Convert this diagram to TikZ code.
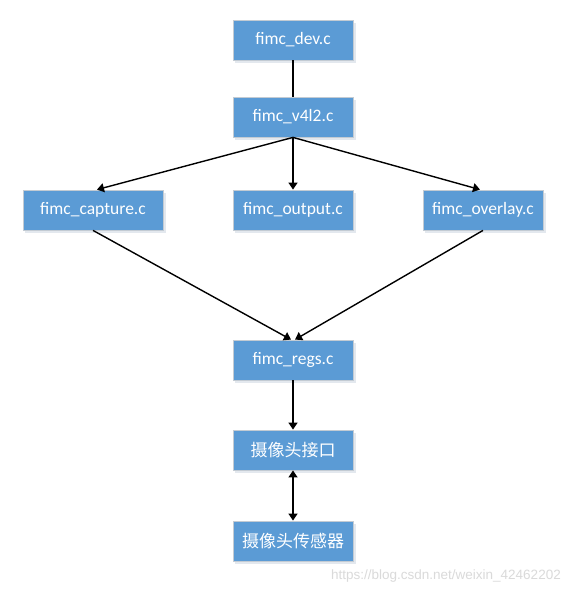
\documentclass[tikz,border=0pt]{standalone}
\usepackage{fontspec}
\setmainfont{Carlito}
\newfontfamily\cjk{Noto Sans CJK SC}
\newfontfamily\wmfont{Liberation Sans}
\usetikzlibrary{arrows.meta}
\definecolor{boxblue}{HTML}{5B9BD5}
\definecolor{boxedge}{HTML}{C3CBD3}
\definecolor{shadowc}{HTML}{E3E8EE}
\definecolor{wm}{HTML}{DADADA}
\tikzset{
  filebox/.style={draw=boxedge, line width=0.8pt, fill=boxblue, text=white,
    minimum width=120pt, minimum height=40pt, inner sep=0pt,
    font=\fontsize{17.5}{20}\selectfont},
  widebox/.style={filebox, minimum width=140pt},
  cnbox/.style={filebox, font=\cjk\fontsize{17}{20}\selectfont},
  link/.style={line width=1.4pt, black},
  arr/.style={link, -{Triangle[length=7pt,width=9pt]}},
  darr/.style={link, {Triangle[length=7pt,width=9pt]}-{Triangle[length=7pt,width=9pt]}},
  shade/.style={fill=shadowc, draw=none}
}
\begin{document}
\begin{tikzpicture}[x={(1pt,0)}, y={(0,-1pt)}]
\useasboundingbox (0,0) rectangle (573,595);
\fill[white] (0,0) rectangle (573,595);
% soft shadows
\foreach \cx/\cy/\w in {293/40/120, 293/117/120, 93/210/140, 293/210/120, 483/210/120, 293/360/120, 293/450/120, 293/541/120}{
  \fill[shadowc] (\cx-\w/2+2,\cy-20+3) rectangle (\cx+\w/2+3,\cy+20+3);
}
\node[filebox] (dev) at (293,40) {fimc\_dev.c};
\node[filebox] (v4l2) at (293,117) {fimc\_v4l2.c};
\node[widebox] (capture) at (93,210) {fimc\_capture.c};
\node[filebox] (output) at (293,210) {fimc\_output.c};
\node[filebox] (overlay) at (483,210) {fimc\_overlay.c};
\node[filebox] (regs) at (293,360) {fimc\_regs.c};
\node[cnbox] (iface) at (293,450) {摄像头接口};
\node[cnbox] (sensor) at (293,541) {摄像头传感器};
\node[text=wm, font=\wmfont\fontsize{13.5}{16}\selectfont, anchor=east, inner sep=0pt] (wmark) at (561,576) {https://blog.csdn.net/weixin\_42462202};

\draw[link] (dev.south) -- (v4l2.north);
\draw[arr] (v4l2.south) -- ([xshift=4pt]capture.north);
\draw[arr] (v4l2.south) -- (output.north);
\draw[arr] (v4l2.south) -- ([xshift=-3pt]overlay.north);
\draw[arr] (capture.south) -- ([xshift=-2pt]regs.north);
\draw[arr] (overlay.south) -- ([xshift=2pt]regs.north);
\draw[arr] (regs.south) -- (iface.north);
\draw[darr] (iface.south) -- (sensor.north);
\end{tikzpicture}
\end{document}
